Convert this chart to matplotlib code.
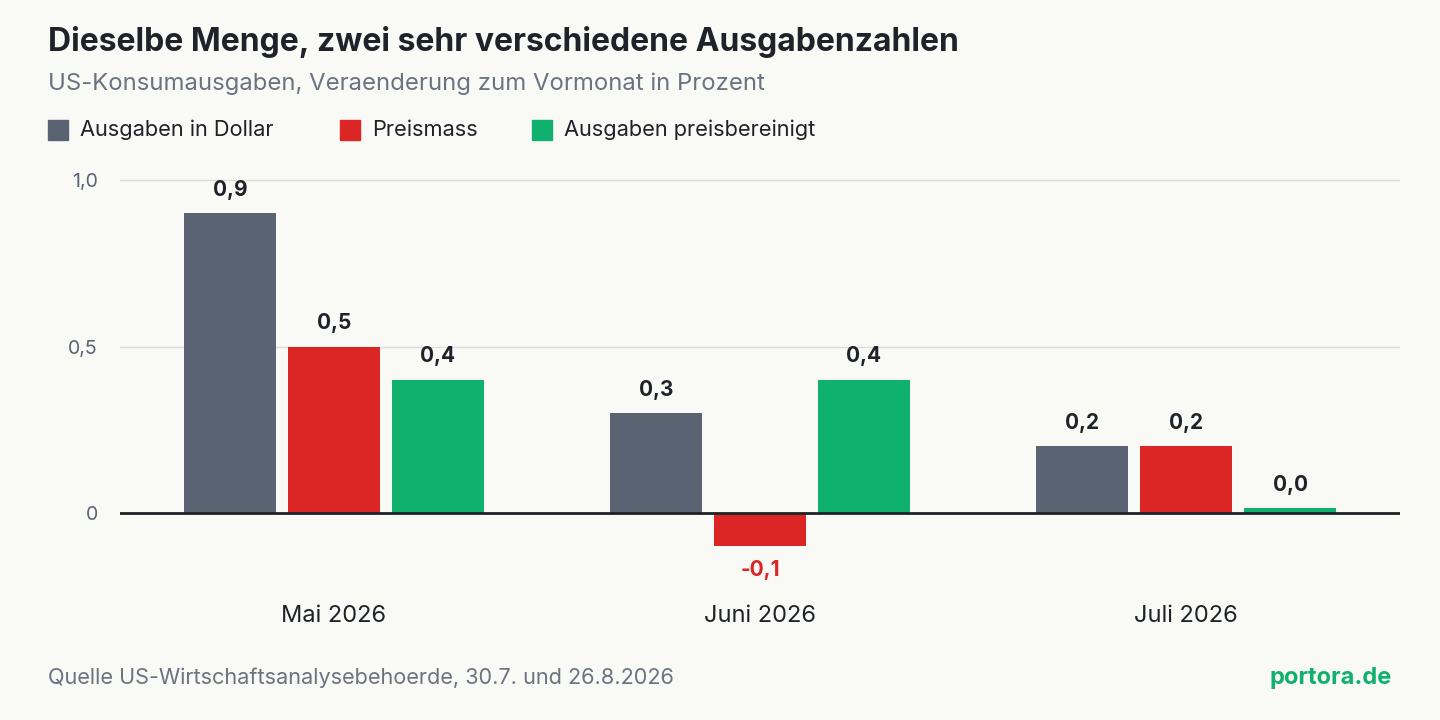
import numpy as np
import matplotlib.pyplot as plt
from matplotlib.patches import Rectangle

plt.rcParams['font.family'] = ['Inter', 'DejaVu Sans']

months = ['Mai 2026', 'Juni 2026', 'Juli 2026']
series = ['Ausgaben in Dollar', 'Preismass', 'Ausgaben preisbereinigt']
dollar = [0.9, 0.3, 0.2]
preis = [0.5, -0.1, 0.2]
real = [0.4, 0.4, 0.0]
colors = ['#5a6372', '#dc2626', '#10b06f']
bg = '#f9f9f6'

fig = plt.figure(figsize=(14.4, 7.2), dpi=100, facecolor=bg)
ax = fig.add_axes([120/1440, 1-560/720, 1280/1440, 390/720], facecolor=bg)

x = np.arange(len(months))
w = 0.216
step = 0.244
for i, (vals, c) in enumerate(zip([dollar, preis, real], colors)):
    pos = x + (i - 1) * step
    shown = [v if v != 0 else 0.015 for v in vals]
    ax.bar(pos, shown, width=w, color=c, zorder=3)
    for p, v, s in zip(pos, vals, shown):
        lbl = f'{v:.1f}'.replace('.', ',')
        if v < 0:
            ax.text(p, s - 0.04, lbl, ha='center', va='top', fontsize=15,
                    fontweight='bold', color=c)
        else:
            ax.text(p, s + 0.04, lbl, ha='center', va='bottom', fontsize=15,
                    fontweight='bold', color='#1f2229')

ax.set_xlim(-0.502, 2.502)
ax.set_ylim(-0.141, 1.03)
ax.set_yticks([0, 0.5, 1.0])
ax.set_yticklabels(['0', '0,5', '1,0'], fontsize=14, color='#5a6372')
ax.tick_params(axis='y', length=0, pad=16)
ax.set_xticks([])
ax.grid(axis='y', color='#dcdcd8', linewidth=1, zorder=0)
ax.axhline(0, color='#1f2229', linewidth=2, zorder=4)
for s in ax.spines.values():
    s.set_visible(False)

for xi, m in zip(x, months):
    ax.text(xi, -0.31, m, ha='center', va='center', fontsize=17, color='#1f2229')

fig.text(48/1440, 1-42/720, 'Dieselbe Menge, zwei sehr verschiedene Ausgabenzahlen',
         fontsize=23, fontweight='bold', color='#1f2229', va='center')
fig.text(48/1440, 1-84/720, 'US-Konsumausgaben, Veraenderung zum Vormonat in Prozent',
         fontsize=17.2, color='#6b7280', va='center')

lx = [48, 340, 532]
for px, name, c in zip(lx, series, colors):
    fig.patches.append(Rectangle((px/1440, 1-140/720), 20/1440, 20/720,
                                 transform=fig.transFigure, color=c))
    fig.text((px + 32)/1440, 1-130/720, name, fontsize=15.7, color='#1f2229', va='center')

fig.text(48/1440, 1-678/720, 'Quelle US-Wirtschaftsanalysebehoerde, 30.7. und 26.8.2026',
         fontsize=15.6, color='#6b7280', va='center')
fig.text(1392/1440, 1-678/720, 'portora.de', fontsize=17, fontweight='bold',
         color='#10b06f', va='center', ha='right')

fig.savefig('out.png', dpi=100, facecolor=bg)
